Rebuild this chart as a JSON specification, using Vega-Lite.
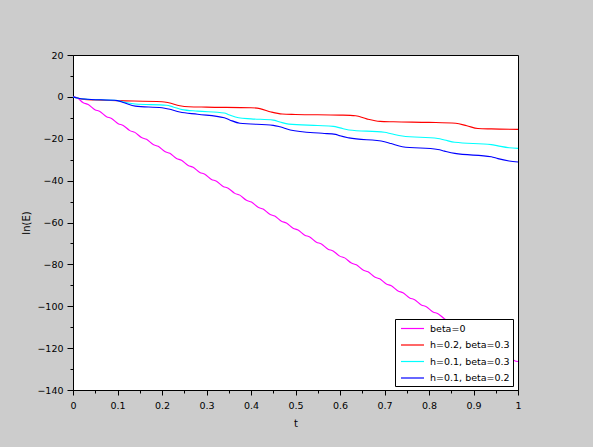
{
  "$schema": "https://vega.github.io/schema/vega-lite/v6.json",
  "width": 445,
  "height": 335,
  "autosize": {"type": "none"},
  "padding": {"left": 73, "top": 55, "right": 75, "bottom": 57},
  "background": "#cccccc",
  "config": {
    "view": {"fill": "white", "stroke": "black", "strokeWidth": 1},
    "font": "DejaVu Sans",
    "axis": {
      "grid": false,
      "domainColor": "black",
      "tickColor": "black",
      "labelColor": "black",
      "titleColor": "black",
      "labelFont": "DejaVu Sans",
      "titleFont": "DejaVu Sans",
      "labelFontSize": 9.5,
      "titleFontSize": 10,
      "titleFontWeight": "normal"
    }
  },
  "data": {"values": [
    {"t": 0, "v": 0, "s": "beta=0"},
    {"t": 0.008, "v": -0.3, "s": "beta=0"},
    {"t": 0.023, "v": -2.8, "s": "beta=0"},
    {"t": 0.0342, "v": -3.63, "s": "beta=0"},
    {"t": 0.0492, "v": -6.13, "s": "beta=0"},
    {"t": 0.0604, "v": -6.96, "s": "beta=0"},
    {"t": 0.0754, "v": -9.46, "s": "beta=0"},
    {"t": 0.0866, "v": -10.29, "s": "beta=0"},
    {"t": 0.1016, "v": -12.79, "s": "beta=0"},
    {"t": 0.1128, "v": -13.62, "s": "beta=0"},
    {"t": 0.1278, "v": -16.12, "s": "beta=0"},
    {"t": 0.139, "v": -16.95, "s": "beta=0"},
    {"t": 0.154, "v": -19.45, "s": "beta=0"},
    {"t": 0.1652, "v": -20.28, "s": "beta=0"},
    {"t": 0.1802, "v": -22.78, "s": "beta=0"},
    {"t": 0.1914, "v": -23.61, "s": "beta=0"},
    {"t": 0.2064, "v": -26.11, "s": "beta=0"},
    {"t": 0.2176, "v": -26.94, "s": "beta=0"},
    {"t": 0.2326, "v": -29.44, "s": "beta=0"},
    {"t": 0.2438, "v": -30.27, "s": "beta=0"},
    {"t": 0.2588, "v": -32.77, "s": "beta=0"},
    {"t": 0.27, "v": -33.6, "s": "beta=0"},
    {"t": 0.285, "v": -36.1, "s": "beta=0"},
    {"t": 0.2962, "v": -36.93, "s": "beta=0"},
    {"t": 0.3112, "v": -39.43, "s": "beta=0"},
    {"t": 0.3224, "v": -40.26, "s": "beta=0"},
    {"t": 0.3374, "v": -42.76, "s": "beta=0"},
    {"t": 0.3486, "v": -43.59, "s": "beta=0"},
    {"t": 0.3636, "v": -46.09, "s": "beta=0"},
    {"t": 0.3748, "v": -46.92, "s": "beta=0"},
    {"t": 0.3898, "v": -49.42, "s": "beta=0"},
    {"t": 0.401, "v": -50.25, "s": "beta=0"},
    {"t": 0.416, "v": -52.75, "s": "beta=0"},
    {"t": 0.4272, "v": -53.58, "s": "beta=0"},
    {"t": 0.4422, "v": -56.08, "s": "beta=0"},
    {"t": 0.4534, "v": -56.91, "s": "beta=0"},
    {"t": 0.4684, "v": -59.41, "s": "beta=0"},
    {"t": 0.4796, "v": -60.24, "s": "beta=0"},
    {"t": 0.4946, "v": -62.74, "s": "beta=0"},
    {"t": 0.5058, "v": -63.57, "s": "beta=0"},
    {"t": 0.5208, "v": -66.07, "s": "beta=0"},
    {"t": 0.532, "v": -66.9, "s": "beta=0"},
    {"t": 0.547, "v": -69.4, "s": "beta=0"},
    {"t": 0.5582, "v": -70.23, "s": "beta=0"},
    {"t": 0.5732, "v": -72.73, "s": "beta=0"},
    {"t": 0.5844, "v": -73.56, "s": "beta=0"},
    {"t": 0.5994, "v": -76.06, "s": "beta=0"},
    {"t": 0.6106, "v": -76.89, "s": "beta=0"},
    {"t": 0.6256, "v": -79.39, "s": "beta=0"},
    {"t": 0.6368, "v": -80.22, "s": "beta=0"},
    {"t": 0.6518, "v": -82.72, "s": "beta=0"},
    {"t": 0.663, "v": -83.55, "s": "beta=0"},
    {"t": 0.678, "v": -86.05, "s": "beta=0"},
    {"t": 0.6892, "v": -86.88, "s": "beta=0"},
    {"t": 0.7042, "v": -89.38, "s": "beta=0"},
    {"t": 0.7154, "v": -90.21, "s": "beta=0"},
    {"t": 0.7304, "v": -92.71, "s": "beta=0"},
    {"t": 0.7416, "v": -93.54, "s": "beta=0"},
    {"t": 0.7566, "v": -96.04, "s": "beta=0"},
    {"t": 0.7678, "v": -96.87, "s": "beta=0"},
    {"t": 0.7828, "v": -99.37, "s": "beta=0"},
    {"t": 0.794, "v": -100.2, "s": "beta=0"},
    {"t": 0.809, "v": -102.7, "s": "beta=0"},
    {"t": 0.8202, "v": -103.53, "s": "beta=0"},
    {"t": 0.8352, "v": -106.03, "s": "beta=0"},
    {"t": 0.8464, "v": -106.86, "s": "beta=0"},
    {"t": 0.8614, "v": -109.36, "s": "beta=0"},
    {"t": 0.8726, "v": -110.19, "s": "beta=0"},
    {"t": 0.8876, "v": -112.69, "s": "beta=0"},
    {"t": 0.8988, "v": -113.52, "s": "beta=0"},
    {"t": 0.9138, "v": -116.02, "s": "beta=0"},
    {"t": 0.925, "v": -116.85, "s": "beta=0"},
    {"t": 0.94, "v": -119.35, "s": "beta=0"},
    {"t": 0.9512, "v": -120.18, "s": "beta=0"},
    {"t": 0.9662, "v": -122.68, "s": "beta=0"},
    {"t": 0.9774, "v": -123.51, "s": "beta=0"},
    {"t": 0.9924, "v": -126.01, "s": "beta=0"},
    {"t": 1.0, "v": -126.4, "s": "beta=0"},

    {"t": 0, "v": 0, "s": "h=0.2, beta=0.3"},
    {"t": 0.01, "v": -0.5, "s": "h=0.2, beta=0.3"},
    {"t": 0.025, "v": -1.2, "s": "h=0.2, beta=0.3"},
    {"t": 0.05, "v": -1.5, "s": "h=0.2, beta=0.3"},
    {"t": 0.1, "v": -1.8, "s": "h=0.2, beta=0.3"},
    {"t": 0.2, "v": -2.3, "s": "h=0.2, beta=0.3"},
    {"t": 0.215, "v": -2.8, "s": "h=0.2, beta=0.3"},
    {"t": 0.24, "v": -4.2, "s": "h=0.2, beta=0.3"},
    {"t": 0.26, "v": -4.7, "s": "h=0.2, beta=0.3"},
    {"t": 0.3, "v": -4.9, "s": "h=0.2, beta=0.3"},
    {"t": 0.4, "v": -5.2, "s": "h=0.2, beta=0.3"},
    {"t": 0.42, "v": -5.6, "s": "h=0.2, beta=0.3"},
    {"t": 0.445, "v": -7.2, "s": "h=0.2, beta=0.3"},
    {"t": 0.47, "v": -8.2, "s": "h=0.2, beta=0.3"},
    {"t": 0.5, "v": -8.4, "s": "h=0.2, beta=0.3"},
    {"t": 0.6, "v": -8.7, "s": "h=0.2, beta=0.3"},
    {"t": 0.635, "v": -9.0, "s": "h=0.2, beta=0.3"},
    {"t": 0.66, "v": -10.5, "s": "h=0.2, beta=0.3"},
    {"t": 0.69, "v": -11.7, "s": "h=0.2, beta=0.3"},
    {"t": 0.72, "v": -11.9, "s": "h=0.2, beta=0.3"},
    {"t": 0.8, "v": -12.2, "s": "h=0.2, beta=0.3"},
    {"t": 0.86, "v": -12.6, "s": "h=0.2, beta=0.3"},
    {"t": 0.885, "v": -13.8, "s": "h=0.2, beta=0.3"},
    {"t": 0.91, "v": -15.1, "s": "h=0.2, beta=0.3"},
    {"t": 0.94, "v": -15.3, "s": "h=0.2, beta=0.3"},
    {"t": 1.0, "v": -15.5, "s": "h=0.2, beta=0.3"},

    {"t": 0, "v": 0, "s": "h=0.1, beta=0.3"},
    {"t": 0.01, "v": -0.5, "s": "h=0.1, beta=0.3"},
    {"t": 0.025, "v": -1.0, "s": "h=0.1, beta=0.3"},
    {"t": 0.1, "v": -1.8, "s": "h=0.1, beta=0.3"},
    {"t": 0.115, "v": -2.5, "s": "h=0.1, beta=0.3"},
    {"t": 0.14, "v": -3.4, "s": "h=0.1, beta=0.3"},
    {"t": 0.21, "v": -4.0, "s": "h=0.1, beta=0.3"},
    {"t": 0.225, "v": -4.8, "s": "h=0.1, beta=0.3"},
    {"t": 0.245, "v": -6.1, "s": "h=0.1, beta=0.3"},
    {"t": 0.28, "v": -6.8, "s": "h=0.1, beta=0.3"},
    {"t": 0.34, "v": -7.7, "s": "h=0.1, beta=0.3"},
    {"t": 0.35, "v": -8.5, "s": "h=0.1, beta=0.3"},
    {"t": 0.372, "v": -10.0, "s": "h=0.1, beta=0.3"},
    {"t": 0.4, "v": -10.5, "s": "h=0.1, beta=0.3"},
    {"t": 0.45, "v": -11.1, "s": "h=0.1, beta=0.3"},
    {"t": 0.465, "v": -12.0, "s": "h=0.1, beta=0.3"},
    {"t": 0.485, "v": -13.0, "s": "h=0.1, beta=0.3"},
    {"t": 0.55, "v": -13.7, "s": "h=0.1, beta=0.3"},
    {"t": 0.585, "v": -14.1, "s": "h=0.1, beta=0.3"},
    {"t": 0.6, "v": -14.8, "s": "h=0.1, beta=0.3"},
    {"t": 0.62, "v": -15.8, "s": "h=0.1, beta=0.3"},
    {"t": 0.7, "v": -16.9, "s": "h=0.1, beta=0.3"},
    {"t": 0.715, "v": -17.6, "s": "h=0.1, beta=0.3"},
    {"t": 0.74, "v": -18.7, "s": "h=0.1, beta=0.3"},
    {"t": 0.82, "v": -19.9, "s": "h=0.1, beta=0.3"},
    {"t": 0.835, "v": -20.6, "s": "h=0.1, beta=0.3"},
    {"t": 0.858, "v": -21.7, "s": "h=0.1, beta=0.3"},
    {"t": 0.94, "v": -22.8, "s": "h=0.1, beta=0.3"},
    {"t": 0.955, "v": -23.4, "s": "h=0.1, beta=0.3"},
    {"t": 0.98, "v": -24.3, "s": "h=0.1, beta=0.3"},
    {"t": 1.0, "v": -24.6, "s": "h=0.1, beta=0.3"},

    {"t": 0, "v": 0, "s": "h=0.1, beta=0.2"},
    {"t": 0.01, "v": -0.5, "s": "h=0.1, beta=0.2"},
    {"t": 0.025, "v": -1.0, "s": "h=0.1, beta=0.2"},
    {"t": 0.1, "v": -1.8, "s": "h=0.1, beta=0.2"},
    {"t": 0.115, "v": -2.8, "s": "h=0.1, beta=0.2"},
    {"t": 0.14, "v": -4.4, "s": "h=0.1, beta=0.2"},
    {"t": 0.2, "v": -5.2, "s": "h=0.1, beta=0.2"},
    {"t": 0.215, "v": -5.8, "s": "h=0.1, beta=0.2"},
    {"t": 0.24, "v": -7.2, "s": "h=0.1, beta=0.2"},
    {"t": 0.28, "v": -8.3, "s": "h=0.1, beta=0.2"},
    {"t": 0.34, "v": -10.0, "s": "h=0.1, beta=0.2"},
    {"t": 0.352, "v": -11.0, "s": "h=0.1, beta=0.2"},
    {"t": 0.375, "v": -12.6, "s": "h=0.1, beta=0.2"},
    {"t": 0.45, "v": -13.6, "s": "h=0.1, beta=0.2"},
    {"t": 0.465, "v": -14.3, "s": "h=0.1, beta=0.2"},
    {"t": 0.488, "v": -15.8, "s": "h=0.1, beta=0.2"},
    {"t": 0.56, "v": -17.4, "s": "h=0.1, beta=0.2"},
    {"t": 0.59, "v": -17.9, "s": "h=0.1, beta=0.2"},
    {"t": 0.6, "v": -18.6, "s": "h=0.1, beta=0.2"},
    {"t": 0.62, "v": -19.6, "s": "h=0.1, beta=0.2"},
    {"t": 0.7, "v": -21.4, "s": "h=0.1, beta=0.2"},
    {"t": 0.715, "v": -22.3, "s": "h=0.1, beta=0.2"},
    {"t": 0.74, "v": -23.8, "s": "h=0.1, beta=0.2"},
    {"t": 0.82, "v": -25.1, "s": "h=0.1, beta=0.2"},
    {"t": 0.835, "v": -25.9, "s": "h=0.1, beta=0.2"},
    {"t": 0.858, "v": -27.0, "s": "h=0.1, beta=0.2"},
    {"t": 0.94, "v": -28.6, "s": "h=0.1, beta=0.2"},
    {"t": 0.955, "v": -29.5, "s": "h=0.1, beta=0.2"},
    {"t": 0.98, "v": -30.6, "s": "h=0.1, beta=0.2"},
    {"t": 1.0, "v": -31.1, "s": "h=0.1, beta=0.2"}
  ]},
  "mark": {"type": "line", "strokeWidth": 1.1, "interpolate": "monotone"},
  "encoding": {
    "x": {
      "field": "t", "type": "quantitative",
      "scale": {"domain": [0, 1], "nice": false, "zero": false},
      "axis": {
        "title": "t",
        "values": [0, 0.05, 0.1, 0.15, 0.2, 0.25, 0.3, 0.35, 0.4, 0.45, 0.5, 0.55, 0.6, 0.65, 0.7, 0.75, 0.8, 0.85, 0.9, 0.95, 1],
        "format": ".2~f",
        "labelExpr": "round(datum.value*100) % 10 === 0 ? datum.label : ''",
        "tickSize": {"condition": {"test": "round(datum.value*100) % 10 === 0", "value": 5}, "value": 3},
        "labelPadding": 5,
        "titlePadding": 9,
        "labelFlush": false,
        "labelOverlap": false
      }
    },
    "y": {
      "field": "v", "type": "quantitative",
      "scale": {"domain": [-140, 20], "nice": false, "zero": false},
      "axis": {
        "title": "ln(E)",
        "values": [-140, -130, -120, -110, -100, -90, -80, -70, -60, -50, -40, -30, -20, -10, 0, 10, 20],
        "format": "d",
        "labelExpr": "datum.value % 20 === 0 ? datum.label : ''",
        "tickSize": {"condition": {"test": "datum.value % 20 === 0", "value": 6}, "value": 3},
        "labelPadding": 4,
        "titlePadding": 5,
        "labelFlush": false,
        "labelOverlap": false
      }
    },
    "color": {
      "field": "s", "type": "nominal",
      "scale": {
        "domain": ["beta=0", "h=0.2, beta=0.3", "h=0.1, beta=0.3", "h=0.1, beta=0.2"],
        "range": ["#ff00ff", "#ff0000", "#00ffff", "#0000ff"]
      },
      "legend": {
        "title": null,
        "orient": "none",
        "legendX": 322,
        "legendY": 264,
        "fillColor": "white",
        "strokeColor": "black",
        "padding": 3,
        "symbolType": "M-2,0H2",
        "symbolSize": 132,
        "symbolOffset": 8,
        "symbolStrokeWidth": 1.2,
        "labelFont": "DejaVu Sans",
        "labelFontSize": 9.5,
        "labelColor": "black",
        "rowPadding": 5.5,
        "labelOffset": 11
      }
    }
  }
}
